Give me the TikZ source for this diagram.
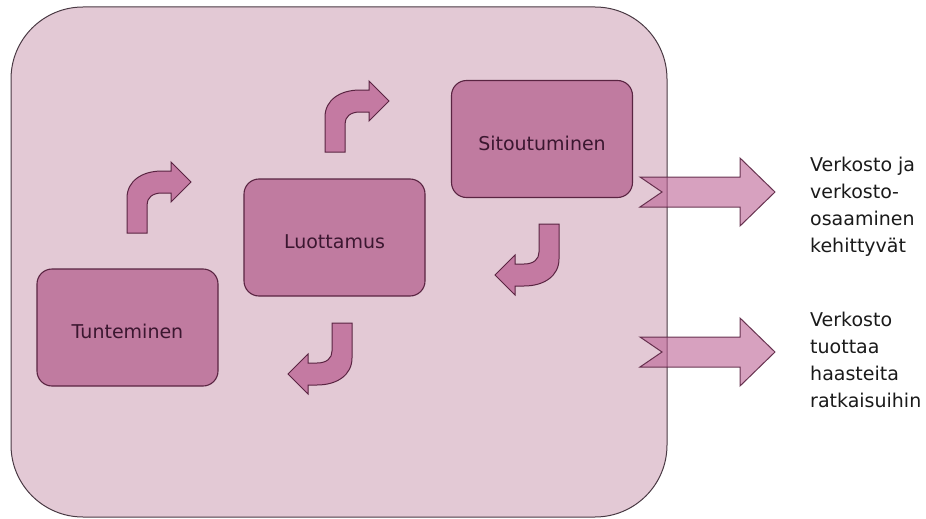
\documentclass[tikz,border=0pt]{standalone}
\usepackage{fontspec}
\setmainfont{DejaVu Sans}
\definecolor{bigfill}{HTML}{E3C9D5}
\definecolor{bigline}{HTML}{4A3A44}
\definecolor{boxfill}{HTML}{C07BA0}
\definecolor{boxline}{HTML}{5A2442}
\definecolor{arrfill}{HTML}{C47AA2}
\definecolor{chevfill}{HTML}{BC6294}
\definecolor{boxtext}{HTML}{3B1730}
\definecolor{sidetext}{HTML}{1A1A1A}
\tikzset{
  bigbox/.style={fill=bigfill, draw=bigline, line width=1pt, rounded corners=72pt},
  stagebox/.style={rectangle, fill=boxfill, draw=boxline, line width=1.1pt, rounded corners=15pt,
    minimum width=181pt, minimum height=117pt, inner sep=0pt,
    text height=22pt, text depth=0pt, text=boxtext, font=\fontsize{19}{23}\selectfont},
  bentstyle/.style={fill=arrfill, draw=boxline, line width=1pt, line join=miter},
  chevstyle/.style={fill=chevfill, fill opacity=0.6, draw=boxline, draw opacity=0.9, line width=1pt},
  sidelabel/.style={anchor=north west, inner sep=0pt, align=left, text=sidetext,
    font=\fontsize{19}{27}\selectfont},
  bentup/.pic={\path[bentstyle] (0,0) -- (0,-35) .. controls (0,-52) and (15,-62) .. (35,-62)
      -- (44,-62) -- (44,-71) -- (64,-51) -- (44,-31) -- (44,-40) -- (35,-40)
      .. controls (25,-40) and (20,-35) .. (20,-28) -- (20,0) -- cycle;},
  bentdown/.pic={\path[bentstyle] (0,0) -- (0,35) .. controls (0,52) and (-15,62) .. (-35,62)
      -- (-44,62) -- (-44,71) -- (-64,51) -- (-44,31) -- (-44,40) -- (-35,40)
      .. controls (-25,40) and (-20,35) .. (-20,28) -- (-20,0) -- cycle;},
  chevron/.pic={\path[chevstyle] (0,-15) -- (100,-15) -- (100,-34) -- (135,0) -- (100,34)
      -- (100,15) -- (0,15) -- (22,0) -- cycle;}
}
\begin{document}
\begin{tikzpicture}[x=1pt,y=-1pt]
\useasboundingbox (0,0) rectangle (926,519);
% container
\path[bigbox] (11,7) rectangle (667,517);
% stage boxes
\node[stagebox] (tun) at (127.5,327.5) {Tunteminen};
\node[stagebox] (luo) at (334.5,237.5) {Luottamus};
\node[stagebox] (sit) at (542,139) {Sitoutuminen};
% bent arrows
\coordinate (b1) at (127,233);
\coordinate (b2) at (325,152);
\coordinate (b3) at (559,224);
\coordinate (b4) at (352,323);
\pic at (b1) {bentup};
\pic at (b2) {bentup};
\pic at (b3) {bentdown};
\pic at (b4) {bentdown};
% outcome arrows
\coordinate (c1) at (640,192);
\coordinate (c2) at (640,352);
\pic at (c1) {chevron};
\pic at (c2) {chevron};
% outcome texts
\node[sidelabel] (out1) at (810,157) {Verkosto ja\\verkosto-\\osaaminen\\kehittyvät};
\node[sidelabel] (out2) at (810,312) {Verkosto\\tuottaa\\haasteita\\ratkaisuihin};
\end{tikzpicture}
\end{document}
